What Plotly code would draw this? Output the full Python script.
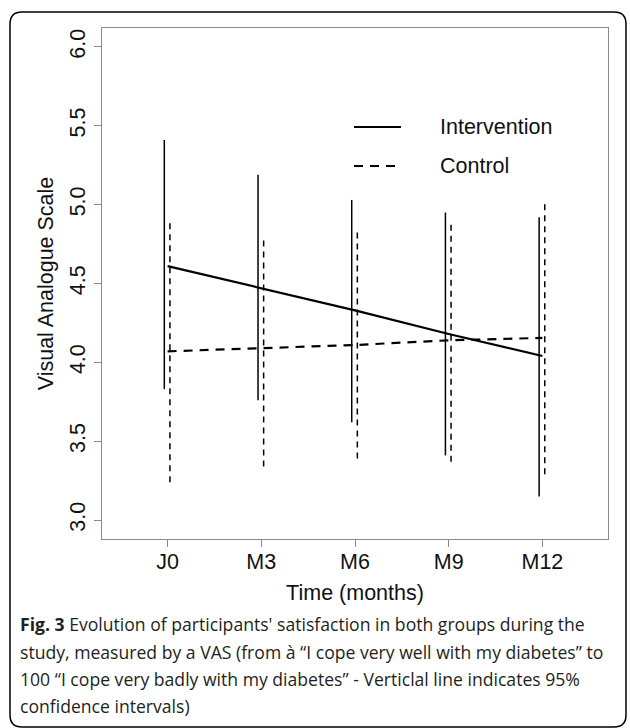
import plotly.graph_objects as go

# ---- data ----
time_labels = ["J0", "M3", "M6", "M9", "M12"]
time_pos = [1, 2, 3, 4, 5]

intervention_mean = [4.61, 4.47, 4.33, 4.18, 4.04]
intervention_low = [3.83, 3.76, 3.62, 3.41, 3.15]
intervention_high = [5.41, 5.19, 5.03, 4.95, 4.92]

control_mean = [4.07, 4.09, 4.11, 4.14, 4.155]
control_low = [3.24, 3.34, 3.39, 3.37, 3.29]
control_high = [4.89, 4.80, 4.835, 4.90, 5.015]

y_ticks = [3.0, 3.5, 4.0, 4.5, 5.0, 5.5, 6.0]

caption_lines = [
    "<b>Fig. 3</b> Evolution of participants' satisfaction in both groups during the",
    "study, measured by a VAS (from à \u201cI cope very well with my diabetes\u201d to",
    "100 \u201cI cope very badly with my diabetes\u201d - Verticlal line indicates 95%",
    "confidence intervals)",
]

# ---- geometry ----
W, H = 630, 728
PL, PR, PT, PB = 102, 608, 28, 539  # plot box in pixels


def px(x):
    return (x - PL) / (PR - PL)


def py(y):
    return (PB - y) / (PB - PT)


INT_OFF = -0.035
CTL_OFF = 0.025


def ci_arrays(off, lo, hi):
    xs, ys = [], []
    for x, l, h in zip(time_pos, lo, hi):
        xs += [x + off, x + off, None]
        ys += [l, h, None]
    return xs, ys


fig = go.Figure()

xi, yi = ci_arrays(INT_OFF, intervention_low, intervention_high)
fig.add_trace(go.Scatter(x=xi, y=yi, mode="lines", showlegend=False,
                         line=dict(color="black", width=1.5), hoverinfo="skip"))
xc, yc = ci_arrays(CTL_OFF, control_low, control_high)
fig.add_trace(go.Scatter(x=xc, y=yc, mode="lines", showlegend=False,
                         line=dict(color="black", width=1.5, dash="6px,5px"),
                         hoverinfo="skip"))

fig.add_trace(go.Scatter(x=time_pos, y=intervention_mean, mode="lines",
                         name="Intervention", showlegend=False,
                         line=dict(color="black", width=2.2)))
fig.add_trace(go.Scatter(x=time_pos, y=control_mean, mode="lines",
                         name="Control", showlegend=False,
                         line=dict(color="black", width=2.2, dash="9px,7px")))

AX = "#8a8a8a"
FONT = "Liberation Sans, Arial, sans-serif"

fig.update_xaxes(range=[0.3, 5.7], tickvals=time_pos, ticktext=time_labels,
                 showline=True, mirror=True, linecolor=AX, linewidth=1.2,
                 ticks="outside", ticklen=7, tickcolor=AX, tickwidth=1.2,
                 ticklabelstandoff=-4,
                 showgrid=False, zeroline=False,
                 tickfont=dict(family=FONT, size=21.5, color="#111"),
                 title=dict(text="Time (months)", standoff=12,
                            font=dict(family=FONT, size=21.5, color="#111")))
fig.update_yaxes(range=[2.88, 6.12], tickvals=y_ticks,
                 ticktext=[f"{v:.1f}" for v in y_ticks], tickangle=-90,
                 showline=True, mirror=True, linecolor=AX, linewidth=1.2,
                 ticks="outside", ticklen=7, tickcolor=AX, tickwidth=1.2,
                 showgrid=False, zeroline=False,
                 tickfont=dict(family=FONT, size=21.5, color="#111"),
                 title=dict(text="Visual Analogue Scale", standoff=6,
                            font=dict(family=FONT, size=21.5, color="#111")))

shapes = []
# outer rounded frame
x0, x1, y0, y1, r = 10, 626, 12, 727, 12
path = (f"M {px(x0+r)},{py(y0)} L {px(x1-r)},{py(y0)} "
        f"Q {px(x1)},{py(y0)} {px(x1)},{py(y0+r)} "
        f"L {px(x1)},{py(y1-r)} Q {px(x1)},{py(y1)} {px(x1-r)},{py(y1)} "
        f"L {px(x0+r)},{py(y1)} Q {px(x0)},{py(y1)} {px(x0)},{py(y1-r)} "
        f"L {px(x0)},{py(y0+r)} Q {px(x0)},{py(y0)} {px(x0+r)},{py(y0)} Z")
shapes.append(dict(type="path", path=path, xref="paper", yref="paper",
                   line=dict(color="black", width=1.5)))
# legend samples
shapes.append(dict(type="line", xref="paper", yref="paper",
                   x0=px(354), x1=px(401), y0=py(127), y1=py(127),
                   line=dict(color="black", width=2)))
shapes.append(dict(type="line", xref="paper", yref="paper",
                   x0=px(354), x1=px(401), y0=py(166), y1=py(166),
                   line=dict(color="black", width=2, dash="9px,7px")))

annotations = [
    dict(text="Intervention", x=px(438), y=py(127), xref="paper", yref="paper",
         xanchor="left", yanchor="middle", showarrow=False,
         font=dict(family=FONT, size=21.5, color="#111")),
    dict(text="Control", x=px(438), y=py(166), xref="paper", yref="paper",
         xanchor="left", yanchor="middle", showarrow=False,
         font=dict(family=FONT, size=21.5, color="#111")),
]
cap_y = [624, 652, 679, 706]
for line, yy in zip(caption_lines, cap_y):
    annotations.append(dict(text=line, x=px(18), y=py(yy), xref="paper",
                            yref="paper", xanchor="left", yanchor="middle",
                            showarrow=False,
                            font=dict(family="Open Sans, sans-serif", size=17.6,
                                      color="#231f20")))

fig.update_layout(width=W, height=H, autosize=False,
                  margin=dict(l=PL, r=W - PR, t=PT, b=H - PB, pad=0),
                  plot_bgcolor="white", paper_bgcolor="white",
                  shapes=shapes, annotations=annotations, showlegend=False)

fig.write_html("out.html", config={"displayModeBar": False},
               post_script="document.body.style.margin='0';"
                           "document.body.style.overflow='hidden';")
